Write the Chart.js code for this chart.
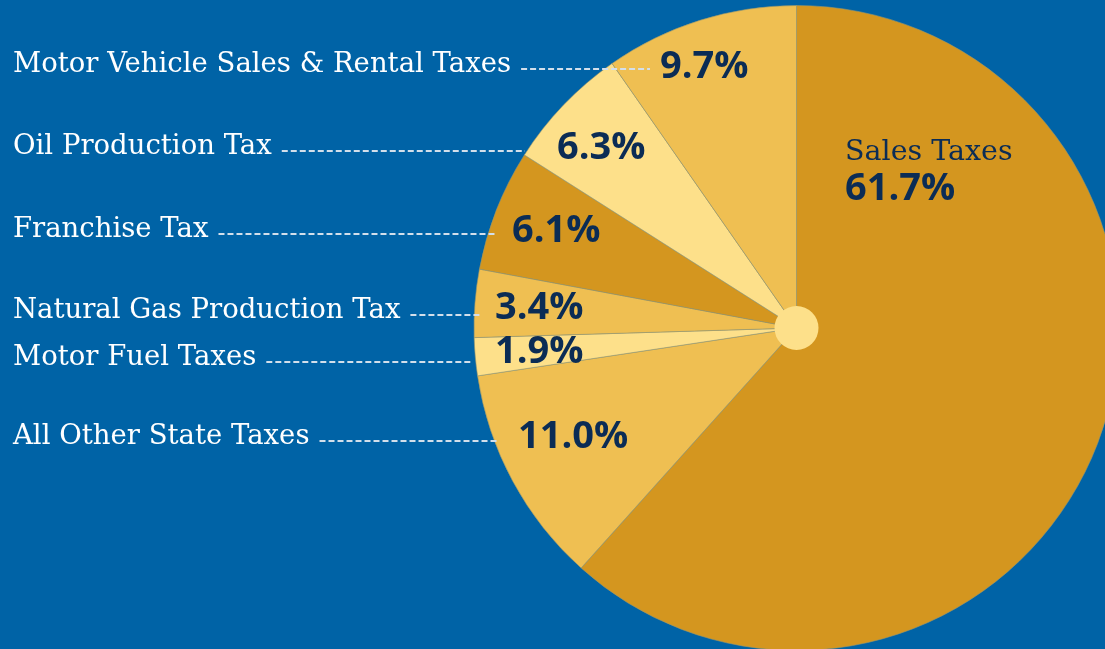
<!DOCTYPE html>
<html>
<head>
<meta charset="utf-8">
<script src="https://cdn.jsdelivr.net/npm/chart.js@4"></script>
<style>
  html, body { margin: 0; padding: 0; background: #0063a6; overflow: hidden; width: 1105px; height: 649px; }
  canvas { display: block; }
</style>
</head>
<body>
<canvas id="tax-pie" width="1130" height="660"></canvas>
<script>
// slices go clockwise from 12 o'clock
const categories = [
    "Sales Taxes",
    "All Other State Taxes",
    "Motor Fuel Taxes",
    "Natural Gas Production Tax",
    "Franchise Tax",
    "Oil Production Tax",
    "Motor Vehicle Sales & Rental Taxes",
];
const shares = [61.7, 11.0, 1.9, 3.4, 6.1, 6.3, 9.7];
const sliceColors = ["#d4961f", "#efbf52", "#fde08a", "#efbf52", "#d4961f", "#fde08a", "#efbf52"];

// where each callout sits: [label y, percent x, percent y, dash end x]
const callouts = {
    "Motor Vehicle Sales & Rental Taxes": [65, 660, 67, 650],
    "Oil Production Tax": [147, 557, 148, 525],
    "Franchise Tax": [230, 512, 231, 497],
    "Natural Gas Production Tax": [311, 495, 308, 482],
    "Motor Fuel Taxes": [358, 495, 352, 472],
    "All Other State Taxes": [437, 518, 437, 497],
};

const labelFont = "27.5px 'DejaVu Serif'";
const titleFont = "28.5px 'DejaVu Serif'";
const pctFont = "bold 38px 'Open Sans'";
const navy = "#0b2c55";

function pct(v) {
    return v.toFixed(1) + "%";
}

const calloutPlugin = {
    id: "callouts",
    afterDraw(chart) {
        const ctx = chart.ctx;
        const arc = chart.getDatasetMeta(0).data[0];
        ctx.save();

        // little hub in the middle
        ctx.beginPath();
        ctx.arc(arc.x, arc.y, 22, 0, Math.PI * 2);
        ctx.fillStyle = "#fde08a";
        ctx.fill();

        ctx.textBaseline = "middle";
        categories.forEach((name, i) => {
            if (i === 0) {
                // the big slice gets its label inside
                ctx.fillStyle = navy;
                ctx.font = titleFont;
                ctx.fillText(name, 845, 153);
                ctx.font = pctFont;
                ctx.fillText(pct(shares[i]), 845, 189);
                return;
            }
            const [ly, px, py, dashEnd] = callouts[name];
            ctx.font = labelFont;
            ctx.fillStyle = "#ffffff";
            ctx.fillText(name, 13, ly);
            const w = ctx.measureText(name).width;

            ctx.beginPath();
            ctx.setLineDash([6, 3]);
            ctx.lineWidth = 2;
            ctx.strokeStyle = "#d3dfeb";
            ctx.moveTo(13 + w + 10, ly + 4);
            ctx.lineTo(dashEnd, ly + 4);
            ctx.stroke();
            ctx.setLineDash([]);

            ctx.font = pctFont;
            ctx.fillStyle = navy;
            ctx.fillText(pct(shares[i]), px, py);
        });
        ctx.restore();
    },
};

new Chart(document.getElementById("tax-pie"), {
    type: "pie",
    data: {
        labels: categories,
        datasets: [
            {
                data: shares,
                backgroundColor: sliceColors,
                borderColor: "rgba(150, 150, 110, 0.6)",
                borderWidth: 1,
            },
        ],
    },
    options: {
        responsive: false,
        animation: false,
        devicePixelRatio: 1,
        layout: { padding: { left: 473, top: 5, right: 10, bottom: 9 } },
        plugins: {
            legend: { display: false },
            tooltip: { enabled: false },
        },
    },
    plugins: [calloutPlugin],
});
</script>
</body>
</html>
